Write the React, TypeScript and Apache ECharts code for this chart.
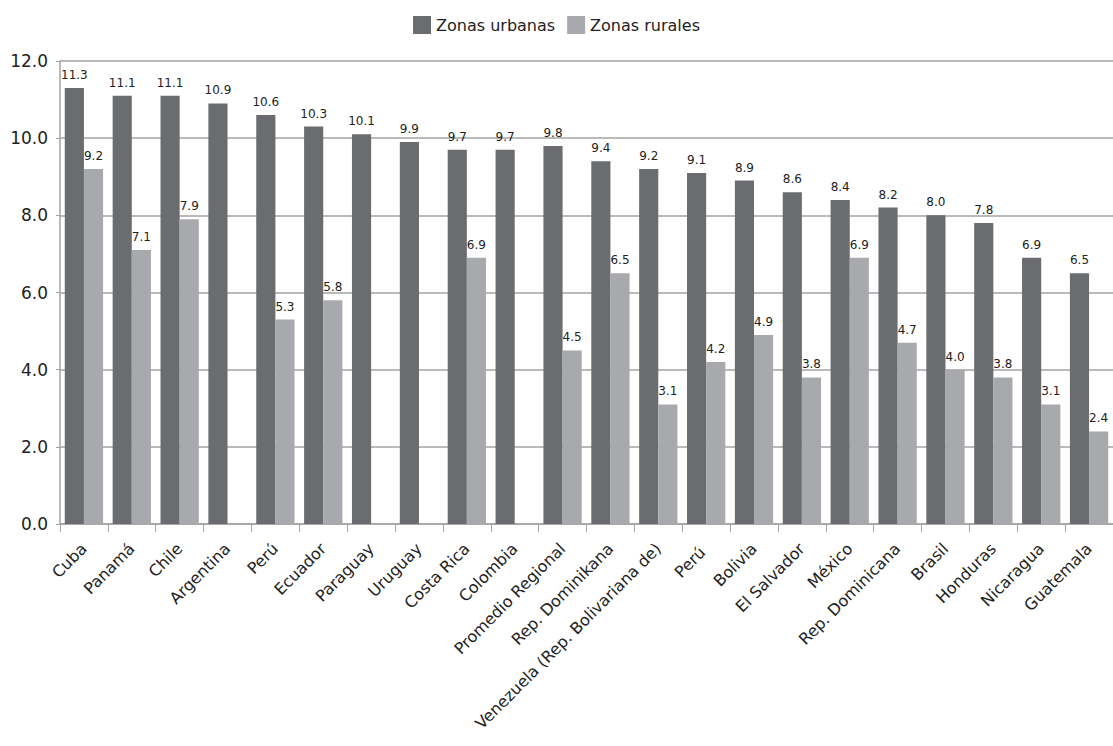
import React, { useEffect, useRef } from "react";
import * as echarts from "echarts";

const categories = [
  "Cuba",
  "Panamá",
  "Chile",
  "Argentina",
  "Perú",
  "Ecuador",
  "Paraguay",
  "Uruguay",
  "Costa Rica",
  "Colombia",
  "Promedio Regional",
  "Rep. Dominikana",
  "Venezuela (Rep. Bolivariana de)",
  "Perú ",
  "Bolivia",
  "El Salvador",
  "México",
  "Rep. Dominicana",
  "Brasil",
  "Honduras",
  "Nicaragua",
  "Guatemala",
];

const urbanValues = [
  11.3, 11.1, 11.1, 10.9, 10.6, 10.3, 10.1, 9.9, 9.7, 9.7, 9.8, 9.4, 9.2, 9.1,
  8.9, 8.6, 8.4, 8.2, 8.0, 7.8, 6.9, 6.5,
];

const ruralValues: (number | null)[] = [
  9.2, 7.1, 7.9, null, 5.3, 5.8, null, null, 6.9, null, 4.5, 6.5, 3.1, 4.2,
  4.9, 3.8, 6.9, 4.7, 4.0, 3.8, 3.1, 2.4,
];

const yTicks = { min: 0, max: 12, interval: 2 };

const FONT = "'DejaVu Sans', 'Noto Sans', sans-serif";
const URBAN = "#6b6c70";
const RURAL = "#a8a9ad";
const GRID = "#a3a3a3";

export default function App() {
  const ref = useRef<HTMLDivElement>(null);

  useEffect(() => {
    if (!ref.current) return;
    const chart = echarts.init(ref.current, undefined, { renderer: "svg" });
    const label = {
      show: true,
      position: "top" as const,
      distance: 7,
      color: "#222",
      fontSize: 12,
      fontFamily: FONT,
      formatter: (p: any) => (p.value == null ? "" : Number(p.value).toFixed(1)),
    };
    chart.setOption({
      animation: false,
      textStyle: { fontFamily: FONT },
      legend: {
        top: 11,
        left: "center",
        icon: "rect",
        itemWidth: 18,
        itemHeight: 18,
        itemGap: 12,
        textStyle: { fontSize: 16, color: "#222", fontFamily: FONT },
        data: ["Zonas urbanas", "Zonas rurales"],
      },
      grid: { left: 60, right: 0, top: 61, bottom: 222, containLabel: false },
      xAxis: {
        type: "category",
        data: categories,
        axisLine: { lineStyle: { color: GRID, width: 1.5 } },
        axisTick: { show: true, length: 8, lineStyle: { color: GRID } },
        axisLabel: {
          rotate: 45,
          interval: 0,
          fontSize: 16,
          color: "#222",
          fontFamily: FONT,
          margin: 22,
        },
      },
      yAxis: {
        type: "value",
        min: yTicks.min,
        max: yTicks.max,
        interval: yTicks.interval,
        axisLine: { show: true, lineStyle: { color: GRID, width: 1.5 } },
        axisTick: { show: true, length: 4, lineStyle: { color: GRID } },
        splitLine: { lineStyle: { color: GRID, width: 1.5 } },
        axisLabel: {
          fontSize: 17,
          color: "#222",
          fontFamily: FONT,
          margin: 12,
          formatter: (v: number) => v.toFixed(1),
        },
      },
      series: [
        {
          name: "Zonas urbanas",
          type: "bar",
          data: urbanValues,
          itemStyle: { color: URBAN },
          barGap: "0%",
          barCategoryGap: "20%",
          label,
        },
        {
          name: "Zonas rurales",
          type: "bar",
          data: ruralValues,
          itemStyle: { color: RURAL },
          barGap: "0%",
          barCategoryGap: "20%",
          label,
        },
      ],
    });
    return () => chart.dispose();
  }, []);

  return (
    <div
      ref={ref}
      style={{ position: "fixed", left: 0, top: 0, width: 1113, height: 746, background: "#fff" }}
    />
  );
}
